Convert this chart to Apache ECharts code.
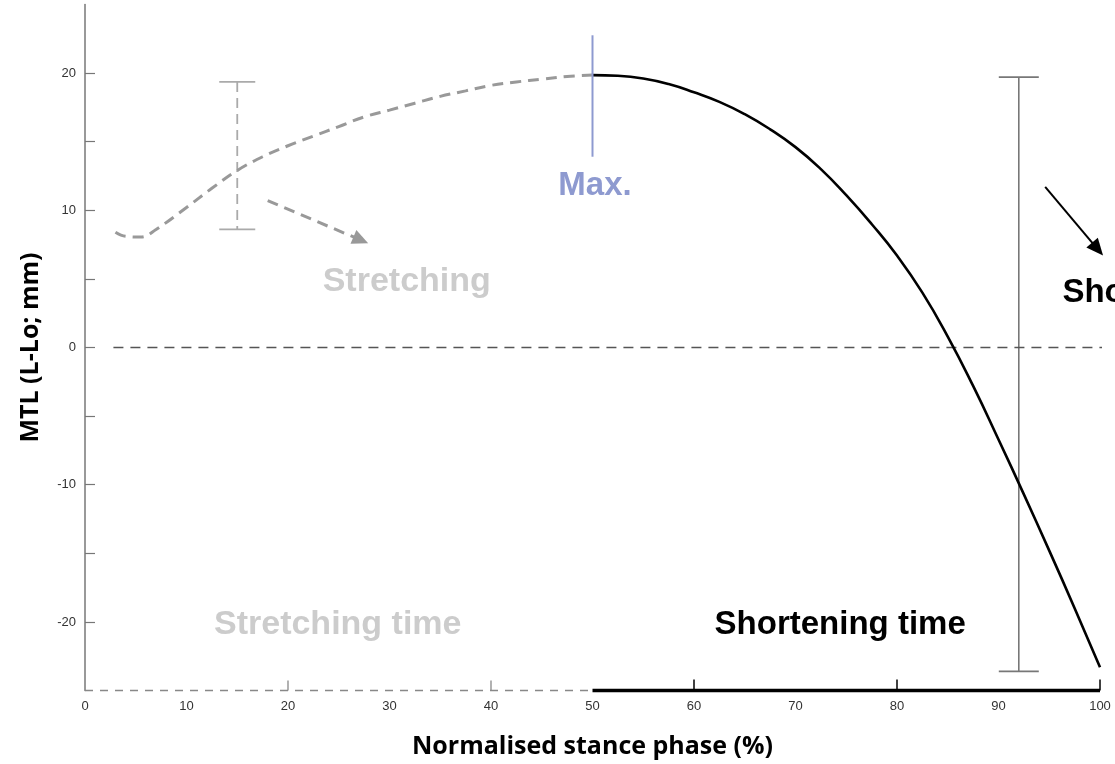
<!DOCTYPE html>
<html>
<head>
<meta charset="utf-8">
<script src="https://cdn.jsdelivr.net/npm/echarts@6/dist/echarts.min.js"></script>
<style>
html,body{margin:0;padding:0;background:#fff;}
#chart{width:1115px;height:764px;}
</style>
</head>
<body>
<div id="chart"></div>
<script>
// ---- data ----
const stretchCurve = [[3,8.4],[4,8.1],[5.5,8.05],[7,8.6],[10,10.2],[12.5,11.6],[15,12.9],[17.5,13.9],[20,14.7],[22.5,15.4],[25,16.1],[27.5,16.8],[30,17.3],[32.5,17.8],[35,18.3],[37.5,18.7],[40,19.1],[42.5,19.35],[45,19.55],[47.5,19.75],[50,19.85]];
const shortenCurve = [[50,19.85],[52.5,19.8],[55,19.6],[57.5,19.2],[60,18.6],[62.5,17.9],[65,17.0],[67.5,15.9],[70,14.6],[72.5,13.0],[75,11.1],[77.5,9.0],[80,6.7],[82.5,4.0],[85,0.8],[87.5,-2.8],[90,-6.7],[92.5,-10.7],[95,-14.8],[97.5,-19.0],[100,-23.3]];
const stretchErr = [[15, 8.6, 19.35]];
const shortenErr = [[92, -23.6, 19.7]];
const maxLine = [[50,13.9],[50,22.75]];
const zeroLine = [[2.8,0],[101.6,0]];
const baseStretch = [[0,-25],[50,-25]];
const baseShorten = [[50,-25],[100,-25]];
const ticksGray = [20, 40];
const ticksBlack = [60, 80, 100];
const xTickLabels = [0,10,20,30,40,50,60,70,80,90,100];
const yTickLabels = [-20,-10,0,10,20];
const yTicks = [-20,-15,-10,-5,0,5,10,15,20];
const stretchArrow = [[18,10.7],[27.9,7.6]];
const shortenArrow = [[94.6,11.7],[100.3,6.7]];
const annotations = [
  {name:'Max.', value:[50.25,11.75]},
  {name:'Stretching', value:[31.7,4.8]},
  {name:'Stretching time', value:[24.9,-20.2]},
  {name:'Shortening time', value:[74.4,-20.2]},
  {name:'Shortening', value:[96.3,4.0]}
];
const xTitle = 'Normalised stance phase (%)';
const yTitle = 'MTL (L-Lo; mm)';

// ---- chart ----
const chart = echarts.init(document.getElementById('chart'));
const annStyle = {
  'Max.': {color:'#8e9ad0', align:'center', size:33},
  'Stretching': {color:'#cccccc', align:'center', size:34},
  'Stretching time': {color:'#cccccc', align:'center', size:34},
  'Shortening time': {color:'#000000', align:'center', size:33},
  'Shortening': {color:'#000000', align:'left', size:33}
};

function errRender(style, hw){
  return function(params, api){
    const x = api.value(0), lo = api.value(1), hi = api.value(2);
    const pt = api.coord([x, hi]), pb = api.coord([x, lo]);
    return {type:'group', children:[
      {type:'line', shape:{x1:pt[0],y1:pt[1],x2:pb[0],y2:pb[1]}, style:Object.assign({stroke:style.stroke, lineWidth:style.lineWidth}, style.dash?{lineDash:style.dash}:{})},
      {type:'line', shape:{x1:pt[0]-hw,y1:pt[1],x2:pt[0]+hw,y2:pt[1]}, style:{stroke:style.stroke, lineWidth:style.lineWidth}},
      {type:'line', shape:{x1:pb[0]-hw,y1:pb[1],x2:pb[0]+hw,y2:pb[1]}, style:{stroke:style.stroke, lineWidth:style.lineWidth}}
    ]};
  };
}

function arrowRender(style){
  return function(params, api){
    if (params.dataIndex !== 0) return null;
    const p0 = api.coord([api.value(0,0), api.value(1,0)]);
    const p1 = api.coord([api.value(0,1), api.value(1,1)]);
    const dx = p1[0]-p0[0], dy = p1[1]-p0[1];
    const L = Math.sqrt(dx*dx+dy*dy), ux = dx/L, uy = dy/L;
    const hl = style.headLen, hw = style.headW/2;
    const bx = p1[0]-ux*hl, by = p1[1]-uy*hl;
    return {type:'group', children:[
      {type:'line', shape:{x1:p0[0],y1:p0[1],x2:bx+ux*2,y2:by+uy*2},
        style:Object.assign({stroke:style.color, lineWidth:style.lineWidth}, style.dash?{lineDash:style.dash}:{})},
      {type:'polygon', shape:{points:[[p1[0],p1[1]],[bx-uy*hw,by+ux*hw],[bx+uy*hw,by-ux*hw]]},
        style:{fill:style.color}}
    ]};
  };
}

const option = {
  backgroundColor:'#ffffff',
  animation:false,
  grid:{left:85, right:15, top:4.4, bottom:73.4, containLabel:false, outerBoundsMode:'none'},
  xAxis:{
    type:'value', min:0, max:100, interval:10,
    name:xTitle, nameLocation:'middle', nameGap:44,
    nameTextStyle:{fontFamily:'"Open Sans", sans-serif', fontWeight:'bold', fontSize:25, color:'#000'},
    axisLine:{show:false}, axisTick:{show:false}, splitLine:{show:false},
    axisLabel:{margin:9, fontSize:13, color:'#333', fontFamily:'"Liberation Sans", Arial, sans-serif',
      customValues:xTickLabels}
  },
  yAxis:{
    type:'value', min:-25, max:25, interval:5,
    name:yTitle, nameLocation:'middle', nameGap:42,
    nameTextStyle:{fontFamily:'"Open Sans", sans-serif', fontWeight:'bold', fontSize:25, color:'#000'},
    axisLine:{show:true, lineStyle:{color:'#777', width:1.5}},
    axisTick:{show:true, inside:true, length:10, lineStyle:{color:'#777', width:1.2}, customValues:yTicks},
    splitLine:{show:false},
    axisLabel:{margin:9, fontSize:13, color:'#333', fontFamily:'"Liberation Sans", Arial, sans-serif',
      customValues:yTickLabels}
  },
  series:[
    {type:'line', data:zeroLine, showSymbol:false, clip:false, silent:true,
      lineStyle:{color:'#555', width:1.3, type:[10,7]}},
    {type:'line', data:baseStretch, showSymbol:false, clip:false,
      lineStyle:{color:'#888', width:1.5, type:[8,7]}},
    {type:'line', data:baseShorten, showSymbol:false, clip:false,
      lineStyle:{color:'#000', width:3.5}},
    {type:'scatter', data:ticksGray.map(v=>[v,-25]), symbol:'rect', symbolSize:[1.3,10], symbolOffset:[0,-5], clip:false,
      itemStyle:{color:'#888', opacity:1}},
    {type:'scatter', data:ticksBlack.map(v=>[v,-25]), symbol:'rect', symbolSize:[1.5,11], symbolOffset:[0,-5.5], clip:false,
      itemStyle:{color:'#000', opacity:1}},
    {type:'line', data:stretchCurve, showSymbol:false, smooth:0.4, clip:false,
      lineStyle:{color:'#999', width:3, type:[11,7]}},
    {type:'line', data:shortenCurve, showSymbol:false, smooth:0.5, clip:false,
      lineStyle:{color:'#000', width:2.6}},
    {type:'line', data:maxLine, showSymbol:false, clip:false,
      lineStyle:{color:'#8e9ad0', width:2}},
    {type:'custom', data:stretchErr, clip:false, renderItem:errRender({stroke:'#aaa', lineWidth:1.8, dash:[10,6]},18)},
    {type:'custom', data:shortenErr, clip:false, renderItem:errRender({stroke:'#777', lineWidth:1.6},20)},
    {type:'custom', data:stretchArrow, clip:false, silent:true,
      renderItem:arrowRender({color:'#999', lineWidth:3, dash:[11,7], headLen:16, headW:15})},
    {type:'custom', data:shortenArrow, clip:false, silent:true,
      renderItem:arrowRender({color:'#000', lineWidth:2, headLen:17, headW:15})},
    {type:'scatter', data:annotations.map(a=>({name:a.name, value:a.value,
        label:{show:true, position:'inside', formatter:a.name, align:annStyle[a.name].align,
          color:annStyle[a.name].color, fontFamily:'"Liberation Sans", Arial, sans-serif', fontWeight:'bold', fontSize:annStyle[a.name].size}})),
      symbolSize:0, clip:false, silent:true, itemStyle:{opacity:1}}
  ]
};
chart.setOption(option);
</script>
</body>
</html>
